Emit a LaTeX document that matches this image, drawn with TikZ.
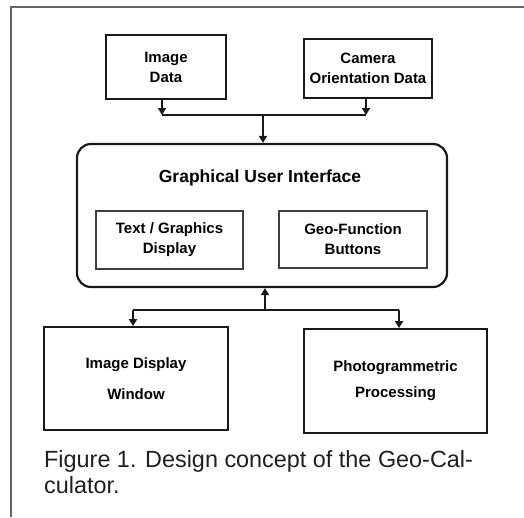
\documentclass[tikz,border=0pt]{standalone}
\usepackage{fontspec}
\setmainfont{Liberation Sans}
\usetikzlibrary{arrows.meta}
\begin{document}
\begin{tikzpicture}[x=1pt,y=-1pt,
  box/.style={draw=black!90, line width=1.8pt, align=center, font=\bfseries\fontsize{15}{20}\selectfont, inner sep=0pt},
  inbox/.style={draw=black!75, line width=1.3pt, align=center, font=\bfseries\fontsize{15}{20}\selectfont, inner sep=0pt},
  guibox/.style={draw=black!90, line width=2.2pt, rounded corners=14pt, inner sep=0pt},
  conn/.style={draw=black!90, line width=1.8pt},
  arr/.style={conn, -{Triangle[length=7pt,width=8pt]}},
  frame/.style={draw=black!60, line width=1.8pt},
  captext/.style={font=\fontsize{23.4}{26}\selectfont, text=black!88, inner sep=0pt}
]
\useasboundingbox (0,0) rectangle (524,517);
% outer frame (only top and left visible)
\coordinate (ftl) at (11,7);
\coordinate (ftr) at (524,7);
\coordinate (fbl) at (11,517);
\draw[frame] (fbl) -- (ftl) -- (ftr);

% top boxes
\node[box, minimum width=120pt, minimum height=64pt] (img) at (166,67) {Image\\Data};
\node[box, minimum width=128pt, minimum height=59pt] (cam) at (368,68.5) {Camera\\Orientation Data};

% GUI
\node[guibox, minimum width=370pt, minimum height=143pt] (gui) at (262,215.5) {};
\node[font=\bfseries\fontsize{17.5}{20}\selectfont, inner sep=0pt] (guit) at (260,178) {Graphical User Interface};
\node[inbox, minimum width=147pt, minimum height=58pt] (tgd) at (169.5,240) {Text / Graphics\\Display};
\node[inbox, minimum width=148pt, minimum height=57pt] (gfb) at (353,239.5) {Geo-Function\\Buttons};

% bottom boxes
\node[box, minimum width=184pt, minimum height=103pt, font=\bfseries\fontsize{15}{31}\selectfont] (idw) at (136,378.5) {Image Display\\Window};
\node[box, minimum width=183pt, minimum height=104pt, font=\bfseries\fontsize{15}{26}\selectfont] (pp) at (395.5,381) {Photogrammetric\\Processing};

% top connectors
\coordinate (j1) at (263,115);
\coordinate (jl) at (162,115);
\coordinate (jr) at (366,115);
\draw[conn] (jl) -- (jr);
\draw[arr] (jl |- img.south) -- (jl);
\draw[arr] (jr |- cam.south) -- (jr);
\draw[arr] (j1) -- (j1 |- gui.north);

% bottom connectors
\coordinate (j2) at (265,310);
\coordinate (kl) at (133,310);
\coordinate (kr) at (399,310);
\draw[conn] (kl) -- (kr);
\draw[arr] (j2) -- (j2 |- gui.south);
\draw[arr] (kl) -- (kl |- idw.north);
\draw[arr] (kr) -- (kr |- pp.north);

% caption
\node[captext, anchor=base west] (cap1) at (44,467) {Figure 1. Design concept of the Geo-Cal-};
\node[captext, anchor=base west] (cap2) at (44,493) {culator.};
\end{tikzpicture}
\end{document}
